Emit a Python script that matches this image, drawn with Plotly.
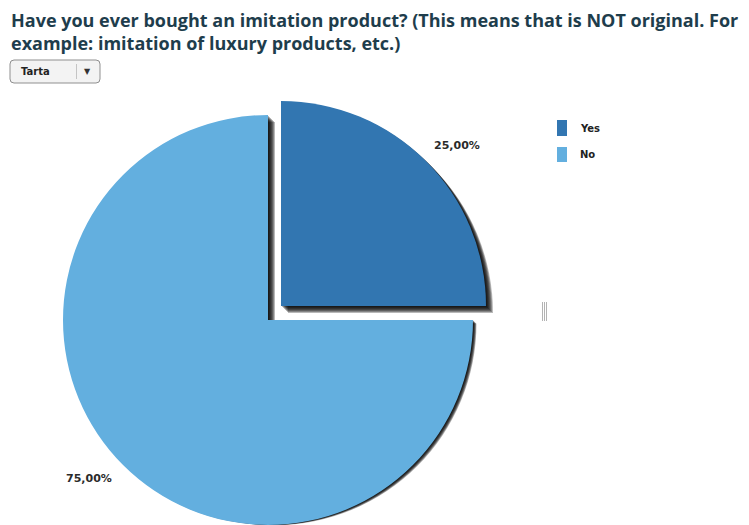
import plotly.graph_objects as go

# ---- data ----
labels = ["Yes", "No"]
values = [25, 75]
colors = ["#3276b1", "#63afdf"]
title_lines = [
    "Have you ever bought an imitation product? (This means that is NOT original. For",
    "example: imitation of luxury products, etc.)",
]
chart_type_label = "Tarta"

# ---- canvas ----
W, H = 749, 525
TRANSPARENT = "rgba(0,0,0,0)"


def px(x):
    return x / W


def py(y):
    return 1 - y / H


def clamp(v):
    return min(1.0, max(0.0, v))


def domain(cx, cy, r):
    return dict(
        x=[clamp((cx - r) / W), clamp((cx + r) / W)],
        y=[clamp(1 - (cy + r) / H), clamp(1 - (cy - r) / H)],
    )


def pie(cx, cy, r, slice_colors, hover=True):
    return go.Pie(
        labels=labels,
        values=values,
        sort=False,
        direction="clockwise",
        rotation=0,
        textinfo="none",
        marker=dict(colors=slice_colors, line=dict(width=0)),
        domain=domain(cx, cy, r),
        showlegend=False,
        hoverinfo="label+percent" if hover else "skip",
    )


fig = go.Figure()

R = 205
NO_C = (268, 320)   # centre of the main body
YES_C = (281, 306)  # exploded slice centre

# soft drop shadows (stacked translucent copies)
shadow = "rgba(0,0,0,0.28)"
for k in range(1, 8):
    d = k / 2
    fig.add_trace(pie(NO_C[0] + k, NO_C[1] + d, R - d, [TRANSPARENT, shadow], hover=False))
for k in range(1, 8):
    fig.add_trace(pie(YES_C[0] + k, YES_C[1] + k, R, [shadow, TRANSPARENT], hover=False))

# slices
fig.add_trace(pie(NO_C[0], NO_C[1], R, [TRANSPARENT, colors[1]]))
fig.add_trace(pie(YES_C[0], YES_C[1], R, [colors[0], TRANSPARENT]))

total = sum(values)


def pct_text(v):
    return f"{v / total * 100:.2f}".replace(".", ",") + "%"


label_font = dict(family="DejaVu Sans", size=11, color="#2b2b2b")
annotations = [
    dict(x=px(457), y=py(145), text=f"<b>{pct_text(values[0])}</b>"),
    dict(x=px(89), y=py(478), text=f"<b>{pct_text(values[1])}</b>"),
]
for a in annotations:
    a.update(xref="paper", yref="paper", showarrow=False, xanchor="center",
             yanchor="middle", font=label_font)

# title
annotations.append(dict(
    x=px(9), y=py(6), xref="paper", yref="paper", showarrow=False,
    xanchor="left", yanchor="top", align="left",
    text="<br>".join(f"<b>{t}</b>" for t in title_lines),
    font=dict(family="Open Sans", size=18, color="#1e3d4c"),
))

shapes = []

# legend
legend_rows = [(120, 136), (147, 162)]
for (y0, y1), lab, col in zip(legend_rows, labels, colors):
    shapes.append(dict(type="rect", xref="paper", yref="paper",
                       x0=px(557), x1=px(567), y0=py(y1), y1=py(y0),
                       fillcolor=col, line=dict(width=0)))
    annotations.append(dict(x=px(578), y=py((y0 + y1) / 2), xref="paper", yref="paper",
                            showarrow=False, xanchor="left", yanchor="middle",
                            text=f"<b>{lab}</b>",
                            font=dict(family="DejaVu Sans", size=10, color="#222222")))

# chart type selector
bx0, bx1, by0, by1, rr = 10, 100, 60, 83, 4
path = (
    f"M {px(bx0 + rr)},{py(by0)} L {px(bx1 - rr)},{py(by0)} "
    f"Q {px(bx1)},{py(by0)} {px(bx1)},{py(by0 + rr)} "
    f"L {px(bx1)},{py(by1 - rr)} Q {px(bx1)},{py(by1)} {px(bx1 - rr)},{py(by1)} "
    f"L {px(bx0 + rr)},{py(by1)} Q {px(bx0)},{py(by1)} {px(bx0)},{py(by1 - rr)} "
    f"L {px(bx0)},{py(by0 + rr)} Q {px(bx0)},{py(by0)} {px(bx0 + rr)},{py(by0)} Z"
)
shapes.append(dict(type="path", xref="paper", yref="paper", path=path,
                   fillcolor="#f3f3f3", line=dict(color="#8f8f8f", width=1)))
shapes.append(dict(type="line", xref="paper", yref="paper",
                   x0=px(76.5), x1=px(76.5), y0=py(64), y1=py(79),
                   line=dict(color="#c4c4c4", width=1)))
annotations.append(dict(x=px(19), y=py(71.5), xref="paper", yref="paper", showarrow=False,
                        xanchor="left", yanchor="middle", text=f"<b>{chart_type_label}</b>",
                        font=dict(family="DejaVu Sans", size=10, color="#222222")))
annotations.append(dict(x=px(87), y=py(71.5), xref="paper", yref="paper", showarrow=False,
                        xanchor="center", yanchor="middle", text="▼",
                        font=dict(family="DejaVu Sans", size=8, color="#333333")))

# resize grip
for gx in (542.5, 544.5, 546.5):
    shapes.append(dict(type="line", xref="paper", yref="paper",
                       x0=px(gx), x1=px(gx), y0=py(302), y1=py(321),
                       line=dict(color="#b3b3b3", width=1)))

fig.update_layout(
    width=W, height=H,
    margin=dict(l=0, r=0, t=0, b=0),
    paper_bgcolor="white",
    plot_bgcolor="white",
    showlegend=False,
    annotations=annotations,
    shapes=shapes,
)

fig.write_html("out.html")
